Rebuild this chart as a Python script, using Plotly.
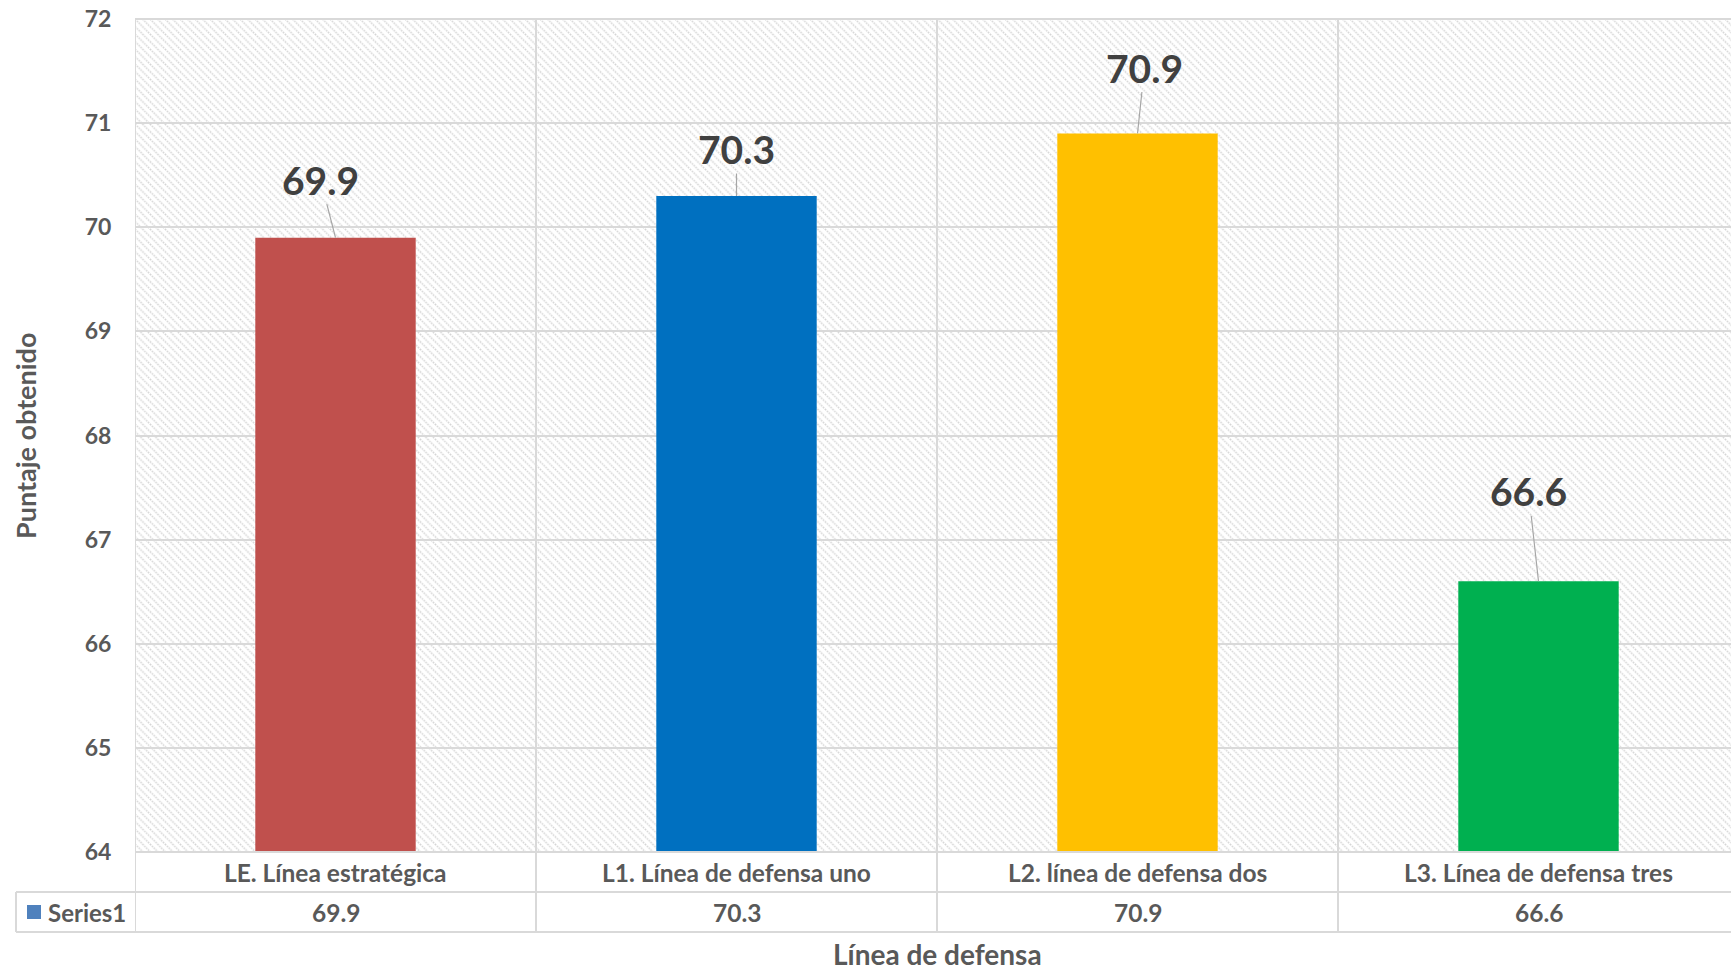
import base64
import plotly.graph_objects as go

# ---------------- data ----------------
categories = ["LE. Línea estratégica", "L1. Línea de defensa uno",
              "L2. línea de defensa dos", "L3. Línea de defensa tres"]
values = [69.9, 70.3, 70.9, 66.6]
bar_colors = ["#C0504D", "#0070C0", "#FFC000", "#00B050"]
series_name = "Series1"
y_ticks = [64, 65, 66, 67, 68, 69, 70, 71, 72]
y_title = "Puntaje obtenido"
x_title = "Línea de defensa"

# ---------------- layout geometry ----------------
W, H = 1731, 972
ML, MR, MT, MB = 135, 0, 19, 120
PW, PH = W - ML - MR, H - MT - MB
CAT_PX = 401.0
x_range = [-0.5, -0.5 + PW / CAT_PX]

FONT = "Lato"
GRID = "#d9d9d9"
TXT = "#595959"


def px_x(p):
    return (p - ML) / PW


def px_y(p):
    return (H - MB - p) / PH


xs = list(range(len(categories)))

fig = go.Figure()
fig.add_trace(go.Bar(
    x=xs, y=values, base=0, width=0.4,
    marker=dict(color=bar_colors, line=dict(width=0)),
    name=series_name, showlegend=False, hoverinfo="x+y",
))

# hatched plot background as an svg pattern image
svg = f'''<svg xmlns="http://www.w3.org/2000/svg" width="{PW}" height="{PH}">
<defs><pattern id="p" width="7.5" height="7.5" patternUnits="userSpaceOnUse">
<path d="M0,0 L7.5,7.5 M-1,6.5 L1,8.5 M6.5,-1 L8.5,1" stroke="#d4d4d4" stroke-width="1.5" stroke-dasharray="1.6,1.0"/>
</pattern></defs>
<rect width="{PW}" height="{PH}" fill="white"/>
<rect width="{PW}" height="{PH}" fill="url(#p)"/>
</svg>'''
src = "data:image/svg+xml;base64," + base64.b64encode(svg.encode()).decode()

shapes = []
table_bottom = px_y(932)
row_mid = px_y(892)
# vertical category gridlines extended through data table
for k in range(len(categories)):
    shapes.append(dict(type="line", xref="x", yref="paper", x0=k - 0.5, x1=k - 0.5,
                       y0=table_bottom, y1=1, line=dict(color=GRID, width=2), layer="above"))
# table horizontal lines
for yy in (row_mid, table_bottom):
    shapes.append(dict(type="line", xref="paper", yref="paper", x0=px_x(16), x1=1.01,
                       y0=yy, y1=yy, line=dict(color=GRID, width=2)))
shapes.append(dict(type="line", xref="paper", yref="paper", x0=0, x1=1.01,
                   y0=0, y1=0, line=dict(color=GRID, width=2)))
shapes.append(dict(type="line", xref="paper", yref="paper", x0=0, x1=1.01,
                   y0=1, y1=1, line=dict(color=GRID, width=2)))
shapes.append(dict(type="line", xref="paper", yref="paper", x0=px_x(16), x1=px_x(16),
                   y0=row_mid, y1=table_bottom, line=dict(color=GRID, width=2)))
# legend key square
shapes.append(dict(type="rect", xref="paper", yref="paper", x0=px_x(27), x1=px_x(41),
                   y0=px_y(919), y1=px_y(905), fillcolor="#4F81BD", line=dict(width=0)))

annotations = []
# data labels with leader lines
label_offsets = [(-15, -58), (0, -47), (7, -66), (-10, -90)]
for x, v, (ax, ay) in zip(xs, values, label_offsets):
    annotations.append(dict(x=x, y=v, xref="x", yref="y", text=f"{v:.1f}",
                            showarrow=True, arrowhead=0, arrowwidth=1.2, arrowcolor="#a6a6a6",
                            ax=ax, ay=ay, standoff=0,
                            font=dict(family=FONT, size=39, color="#404040", weight="bold")))
# data table texts
for x, c, v in zip(xs, categories, values):
    annotations.append(dict(x=x, y=px_y(872), xref="x", yref="paper", text=c, showarrow=False,
                            font=dict(family=FONT, size=24.5, color=TXT, weight="bold"),
                            xanchor="center", yanchor="middle"))
    annotations.append(dict(x=x, y=px_y(912), xref="x", yref="paper", text=f"{v:.1f}",
                            showarrow=False,
                            font=dict(family=FONT, size=24.5, color=TXT, weight="bold"),
                            xanchor="center", yanchor="middle"))
annotations.append(dict(x=px_x(46), y=px_y(912), xref="paper", yref="paper", text=series_name,
                        showarrow=False, xanchor="left", yanchor="middle",
                        font=dict(family=FONT, size=24, color=TXT, weight="bold")))
# axis titles
annotations.append(dict(x=px_x(25), y=px_y(436), xref="paper", yref="paper", text=y_title,
                        showarrow=False, textangle=-90, xanchor="center", yanchor="middle",
                        font=dict(family=FONT, size=27, color=TXT, weight="bold")))
annotations.append(dict(x=px_x(937), y=px_y(954), xref="paper", yref="paper", text=x_title,
                        showarrow=False, xanchor="center", yanchor="middle",
                        font=dict(family=FONT, size=28, color=TXT, weight="bold")))

fig.update_layout(
    width=W, height=H,
    margin=dict(l=ML, r=MR, t=MT, b=MB, pad=0),
    paper_bgcolor="white", plot_bgcolor="white",
    barmode="overlay",
    showlegend=False,
    images=[dict(source=src, xref="paper", yref="paper", x=0, y=1, sizex=1, sizey=1,
                 xanchor="left", yanchor="top", sizing="stretch", layer="below")],
    shapes=shapes,
    annotations=annotations,
    xaxis=dict(range=x_range, showgrid=False, showticklabels=False, zeroline=False,
               showline=False, ticks=""),
    yaxis=dict(range=[y_ticks[0], y_ticks[-1]], tickvals=y_ticks, showgrid=True,
               gridcolor=GRID, gridwidth=2, zeroline=False, showline=False,
               ticks="outside", ticklen=18, tickcolor="rgba(0,0,0,0)",
               tickfont=dict(family=FONT, size=23, color=TXT, weight="bold")),
)

fig.write_html("out.html")
